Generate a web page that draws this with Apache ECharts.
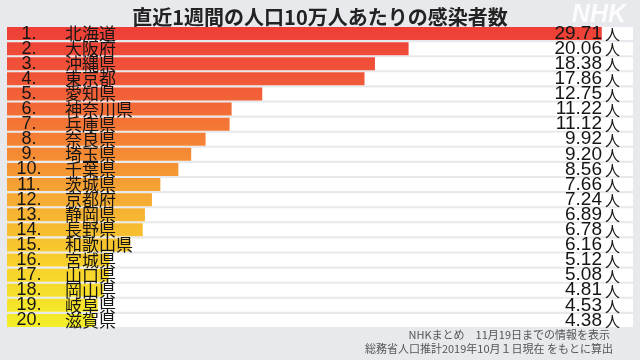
<!DOCTYPE html>
<html><head><meta charset="utf-8">
<script src="https://cdn.jsdelivr.net/npm/echarts@6/dist/echarts.min.js"></script>
<style>html,body{margin:0;padding:0;background:#e7e9ed;}#c{width:640px;height:360px;}</style>
</head><body><div id="c"></div>
<script>
const titleText = '直近1週間の人口10万人あたりの感染者数';
const ranks = ['1.','2.','3.','4.','5.','6.','7.','8.','9.','10.','11.','12.','13.','14.','15.','16.','17.','18.','19.','20.'];
const prefectures = ['北海道','大阪府','沖縄県','東京都','愛知県','神奈川県','兵庫県','奈良県','埼玉県','千葉県','茨城県','京都府','静岡県','長野県','和歌山県','宮城県','山口県','岡山県','岐阜県','滋賀県'];
const values = [29.71,20.06,18.38,17.86,12.75,11.22,11.12,9.92,9.20,8.56,7.66,7.24,6.89,6.78,6.16,5.12,5.08,4.81,4.53,4.38];
const unit = '人';
const footer1 = 'NHKまとめ　11月19日までの情報を表示';
const footer2 = '総務省人口推計2019年10月１日現在 をもとに算出';
const axisMax = 31.27;

const chart = echarts.init(document.getElementById('c'));
const grad = new echarts.graphic.LinearGradient(0, 26, 0, 328, [
  {offset: 0, color: '#ee3e37'},
  {offset: 0.2, color: '#f15a38'},
  {offset: 0.35, color: '#f47b35'},
  {offset: 0.6, color: '#f6b033'},
  {offset: 0.8, color: '#f8d22c'},
  {offset: 1, color: '#f3ef29'}
], true);
chart.setOption({
  backgroundColor: '#e7e9ed',
  animation: false,
  title: {
    text: titleText, left: 'center', top: 2,
    textStyle: {fontFamily: 'Noto Sans CJK JP', fontSize: 20, fontWeight: 'bold', color: '#222'}
  },
  grid: {left: 7, right: 7, top: 26, height: 302},
  xAxis: {type: 'value', min: 0, max: axisMax, show: false},
  yAxis: {type: 'category', inverse: true, data: prefectures, show: false},
  series: [
    {
      type: 'bar', barWidth: 13, silent: true,
      data: values.map(() => axisMax),
      itemStyle: {color: '#ffffff'},
      z: 1
    },
    {
      type: 'bar', barWidth: 13, barGap: '-100%',
      data: values,
      itemStyle: {color: grad},
      label: {
        show: true, position: 'insideLeft', distance: 0,
        formatter: p => '{r|' + ranks[p.dataIndex] + '}{n|' + prefectures[p.dataIndex] + '}',
        rich: {
          r: {fontFamily: 'Liberation Sans', fontSize: 18, color: '#151515', width: 44, align: 'right'},
          n: {fontFamily: 'Noto Sans CJK JP', fontSize: 17, color: '#151515', padding: [0, 0, 0, 14]}
        }
      },
      z: 2
    },
    {
      type: 'bar', barWidth: 13, barGap: '-100%', silent: true,
      data: values.map(() => axisMax),
      itemStyle: {color: 'rgba(0,0,0,0)'},
      label: {
        show: true, position: 'insideRight', distance: 13,
        formatter: p => '{v|' + values[p.dataIndex].toFixed(2) + '}{u|' + unit + '}',
        rich: {
          v: {fontFamily: 'Liberation Sans', fontSize: 19, color: '#151515'},
          u: {fontFamily: 'Noto Sans CJK JP', fontSize: 15, color: '#151515', padding: [2, 0, 0, 3]}
        }
      },
      z: 3
    }
  ],
  graphic: [
    {type: 'text', right: 14, top: 3, style: {text: 'NHK', font: 'italic bold 25px Liberation Sans', fill: 'rgba(255,255,255,0.85)'}},
    {type: 'text', right: 30, top: 329, style: {text: footer1, font: '11px "Noto Sans CJK JP"', fill: '#555'}},
    {type: 'text', right: 27, top: 343, style: {text: footer2, font: '11px "Noto Sans CJK JP"', fill: '#555'}}
  ]
});
</script></body></html>
